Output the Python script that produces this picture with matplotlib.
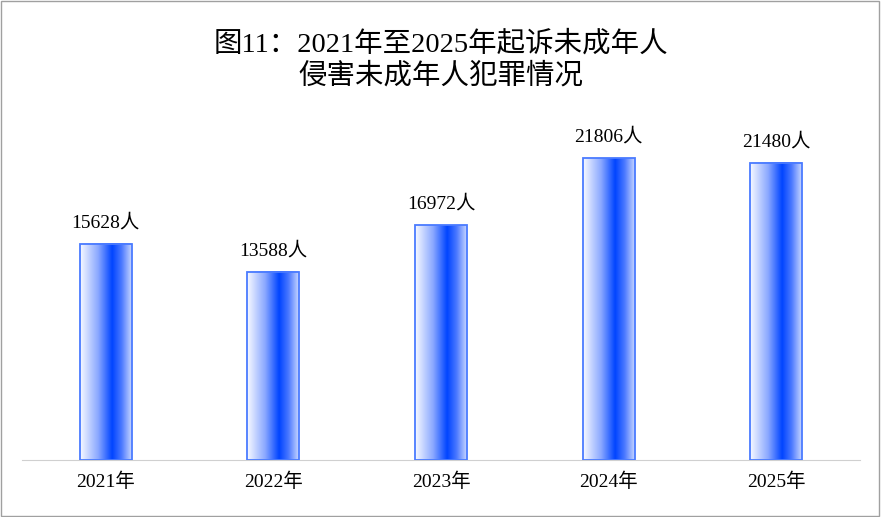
import matplotlib
matplotlib.use("Agg")
import matplotlib.pyplot as plt
import numpy as np
from matplotlib.colors import LinearSegmentedColormap
from matplotlib.patches import Rectangle

years = ["2021年", "2022年", "2023年", "2024年", "2025年"]
values = [15628, 13588, 16972, 21806, 21480]
title = "图11：2021年至2025年起诉未成年人\n侵害未成年人犯罪情况"

plt.rcParams["font.family"] = ["Liberation Serif", "Noto Sans CJK SC"]

fig = plt.figure(figsize=(8.81, 5.17), dpi=100)
ax = fig.add_axes([22 / 881, 1 - 460 / 517, 838 / 881, 360 / 517])
ax.set_xlim(-0.5, len(years) - 0.5)
ax.set_ylim(0, 26000)

cmap = LinearSegmentedColormap.from_list(
    "bar", [(0, "#f8faff"), (0.35, "#8aa8ff"), (0.62, "#0044ff"), (0.8, "#4a78ff"), (1, "#c8d6ff")])
grad = np.linspace(0, 1, 256).reshape(1, -1)
w = 0.31
for i, v in enumerate(values):
    x0 = i - w / 2
    ax.imshow(grad, cmap=cmap, extent=(x0, x0 + w, 0, v), aspect="auto", zorder=2)
    ax.add_patch(Rectangle((x0, 0), w, v, fill=False, edgecolor="#4a7bff", lw=1.3, zorder=3))
    ax.text(i, v + 900, f"{v}人", ha="center", va="bottom", fontsize=14)

ax.set_xticks(range(len(years)))
ax.set_xticklabels(years, fontsize=14)
ax.tick_params(length=0, pad=9)
ax.set_yticks([])
for s in ["top", "right", "left"]:
    ax.spines[s].set_visible(False)
ax.spines["bottom"].set_color("#d0d0d0")

fig.text(0.5, 1 - 60 / 517, title, ha="center", va="center", fontsize=20.5, linespacing=1.25)
fig.patches.append(Rectangle((0.001, 0.002), 0.997, 0.996, transform=fig.transFigure,
                             fill=False, edgecolor="#a0a0a0", lw=1))
fig.savefig("out.png", dpi=100)
